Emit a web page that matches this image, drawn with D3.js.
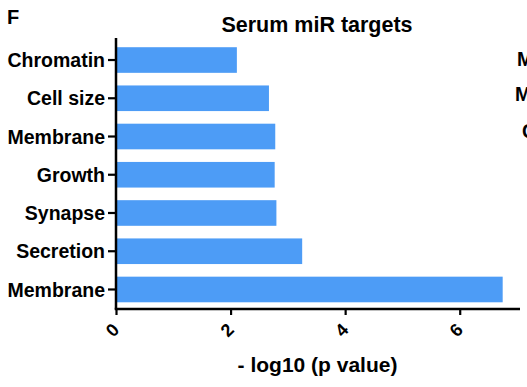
<!DOCTYPE html>
<html>
<head>
<meta charset="utf-8">
<script src="https://cdn.jsdelivr.net/npm/d3@7/dist/d3.min.js"></script>
<style>
  html, body { margin: 0; padding: 0; background: #fff; }
  svg { display: block; font-family: Arial, "Liberation Sans", sans-serif; font-weight: bold; }
</style>
</head>
<body>
<svg id="chart" width="527" height="387"></svg>
<script>
// GO term categories (top to bottom) and their enrichment scores
const categories = ["Chromatin", "Cell size", "Membrane", "Growth", "Synapse", "Secretion", "Membrane"];
const values = [2.11, 2.67, 2.78, 2.77, 2.80, 3.25, 6.75];
const xTicks = [0, 2, 4, 6];
// first letters of the neighbouring panel's labels, cut by the page edge
const neighbourLabels = [{t: "M", x: 517, y: 66}, {t: "M", x: 515, y: 101}, {t: "C", x: 522, y: 138}];

const svg = d3.select("#chart");
const plotLeft = 116, plotRight = 517, plotTop = 40.9, plotBottom = 308.6;
const fontFamily = "Arial, 'Liberation Sans', sans-serif";

const x = d3.scaleLinear().domain([0, 7]).range([plotLeft, plotRight]);
const y = d3.scaleBand()
  .domain(categories.map((d, i) => i))
  .range([plotTop, plotBottom])
  .paddingInner(0.33)
  .paddingOuter(0.165);

// bars
svg.append("g").selectAll("rect")
  .data(values)
  .join("rect")
  .attr("x", x(0))
  .attr("y", (d, i) => y(i))
  .attr("width", d => x(d) - x(0))
  .attr("height", y.bandwidth())
  .attr("fill", "#4d9cf6");

// y axis
const yAxis = svg.append("g")
  .attr("transform", `translate(${plotLeft},0)`)
  .call(d3.axisLeft(y).tickSize(8).tickPadding(3).tickFormat(i => categories[i]));
yAxis.select(".domain").remove();
yAxis.selectAll(".tick line").attr("stroke", "#000").attr("stroke-width", 2.2);
yAxis.selectAll(".tick text").attr("font-size", 19.5).attr("font-weight", "bold")
  .attr("font-family", fontFamily).attr("fill", "#000").attr("dy", "0.36em");
svg.append("line")
  .attr("x1", plotLeft).attr("x2", plotLeft).attr("y1", 38).attr("y2", 309.5)
  .attr("stroke", "#000").attr("stroke-width", 2.5);

// x axis
const xAxis = svg.append("g")
  .attr("transform", `translate(0,309)`)
  .call(d3.axisBottom(x).tickValues(xTicks).tickSize(6).tickFormat(d3.format("d")));
xAxis.select(".domain").remove();
xAxis.selectAll(".tick line").attr("stroke", "#000").attr("stroke-width", 2.2);
xAxis.selectAll(".tick text")
  .attr("font-size", 18).attr("font-weight", "bold")
  .attr("font-family", fontFamily).attr("fill", "#000")
  .attr("text-anchor", "middle")
  .attr("dy", null).attr("y", null)
  .attr("transform", "translate(-3,22) rotate(-45)")
  .attr("dominant-baseline", "middle");
svg.append("line")
  .attr("x1", plotLeft - 1.25).attr("x2", 520).attr("y1", 309).attr("y2", 309)
  .attr("stroke", "#000").attr("stroke-width", 2.5);

// titles
svg.append("text").attr("x", 7).attr("y", 24).attr("font-size", 20).text("F");
svg.append("text").attr("x", 317).attr("y", 32.3).attr("text-anchor", "middle")
  .attr("font-size", 21.5).text("Serum miR targets");
svg.append("text").attr("x", 317.5).attr("y", 372).attr("text-anchor", "middle")
  .attr("font-size", 21).text("- log10 (p value)");

svg.append("g").selectAll("text")
  .data(neighbourLabels)
  .join("text")
  .attr("x", d => d.x).attr("y", d => d.y)
  .attr("font-size", 19.5)
  .text(d => d.t);
</script>
</body>
</html>
